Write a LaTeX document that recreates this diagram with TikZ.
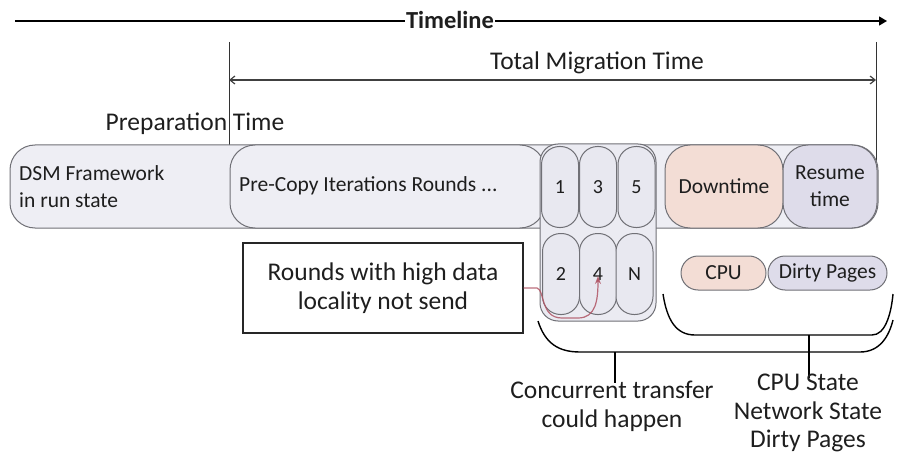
\documentclass[tikz,border=0pt]{standalone}
\usepackage{fontspec}
\setmainfont{Carlito}
\usetikzlibrary{arrows.meta}
\definecolor{barfill}{HTML}{EEEEF4}
\definecolor{pillfill}{HTML}{E8E8F0}
\definecolor{bordergray}{HTML}{707076}
\definecolor{peach}{HTML}{F3DDD5}
\definecolor{lav}{HTML}{DEDCEA}
\definecolor{txt}{HTML}{1E1E1E}
\definecolor{redline}{HTML}{B05565}
\begin{document}
\begin{tikzpicture}[x=1pt,y=-1pt,
  every node/.style={text=txt},
  bigtext/.style={font=\fontsize{25.5}{29}\selectfont, inner sep=0pt, align=center},
  intext/.style={font=\fontsize{21.5}{27}\selectfont, inner sep=0pt},
  shapebox/.style={draw=bordergray, line width=1pt, inner sep=0pt},
  roundbox/.style={shapebox, rounded corners=25pt, minimum height=83pt},
  pillbox/.style={shapebox, fill=pillfill, minimum width=37pt, minimum height=81pt, rounded corners=18pt, font=\fontsize{20}{22}\selectfont},
  smallpill/.style={shapebox, minimum height=34pt, rounded corners=17pt, font=\fontsize{21.5}{24}\selectfont},
  bracket/.style={draw=black, line width=1.4pt},
  guide/.style={draw=black!80, line width=1pt}
]
\useasboundingbox (0,0) rectangle (901,457);

% timeline
\coordinate (tlS) at (15,21);
\coordinate (tlE) at (887,21);
\draw[line width=1.3pt, -{Triangle[length=8pt,width=9pt]}] (tlS) -- (tlE);
\node[font=\bfseries\fontsize{24.5}{28}\selectfont, fill=white, inner sep=1pt] (tl) at (450,20) {Timeline};

% vertical guides
\coordinate (vLt) at (229,42);
\coordinate (vLb) at (229,193);
\coordinate (vRt) at (876,42);
\coordinate (vRb) at (876,180);
\draw[guide] (vLt) -- (vLb);
\draw[guide] (vRt) -- (vRb);

% total migration time
\coordinate (tmL) at (229,80);
\coordinate (tmR) at (876,80);
\draw[draw=black!75, line width=1.2pt, {Straight Barb[length=5pt,width=8pt]}-{Straight Barb[length=5pt,width=8pt]}] (tmL) -- (tmR);
\node[bigtext] (tmt) at (597,63) {Total Migration Time};

\node[bigtext] (prep) at (195,124) {Preparation Time};

% main bar
\node[roundbox, fill=barfill, minimum width=868pt] (bar) at (444,186.5) {};
\node[intext, anchor=west, align=left] (dsm) at (19,187) {DSM Framework\\in run state};
\node[roundbox, fill=barfill, minimum width=315pt] (pre) at (387.5,186.5) {};
\node[intext, anchor=west] (pret) at (239,186) {Pre-Copy Iterations Rounds ...};

% container of rounds
\node[shapebox, fill=pillfill!85!white, minimum width=116pt, minimum height=177pt, rounded corners=18pt] (cont) at (598,232.5) {};
\node[pillbox] (p1) at (560,187) {1};
\node[pillbox] (p3) at (598,187) {3};
\node[pillbox] (p5) at (636.5,187) {5};
\node[pillbox] (p2) at (561,274) {2};
\node[pillbox] (p4) at (598,274) {4};
\node[pillbox] (pN) at (634.5,274) {N};

% downtime & resume
\node[roundbox, fill=peach, minimum width=118pt, intext] (down) at (724,186.5) {Downtime};
\node[roundbox, fill=lav, minimum width=94pt, intext, align=center] (res) at (830,186.5) {Resume\\time};

% cpu & dirty pages
\node[smallpill, fill=peach, minimum width=85pt] (cpu) at (723.5,273) {CPU};
\node[smallpill, fill=lav, minimum width=119pt] (dirty) at (827.5,273) {Dirty Pages};

% rounds box
\node[draw=black!85, line width=1.2pt, minimum width=280pt, minimum height=90pt, inner sep=0pt, bigtext] (rounds) at (383,288) {Rounds with high data\\locality not send};

% red connector
\coordinate (rtip) at (598,276);
\draw[redline, line width=1.2pt, opacity=0.85, -{Stealth[length=8pt,width=6pt]}]
  (rounds.east) -- (537,288) .. controls (545,290) and (540,318) .. (562,318)
  -- (578,318) .. controls (596,318) and (598,300) .. (rtip);

% brackets
\coordinate (cbL) at (538,321);
\coordinate (cbR) at (893,320);
\draw[bracket] (cbL) .. controls (545,343) and (558,352) .. (580,352) -- (860,352) .. controls (880,352) and (889,336) .. (cbR);
\coordinate (cS1) at (615,352);
\coordinate (cS2) at (615,383);
\draw[bracket] (cS1) -- (cS2);
\node[bigtext] (conc) at (612,406) {Concurrent transfer\\could happen};

\coordinate (pbL) at (663,294);
\coordinate (pbR) at (893,294);
\draw[bracket] (pbL) .. controls (667,320) and (676,335) .. (695,335) -- (872,335) .. controls (885,335) and (891,315) .. (pbR);
\coordinate (pS1) at (809,335);
\coordinate (pS2) at (809,378);
\draw[bracket] (pS1) -- (pS2);
\node[bigtext, font=\fontsize{25.5}{28.5}\selectfont] (state) at (808,413) {CPU State\\Network State\\Dirty Pages};
\end{tikzpicture}
\end{document}
